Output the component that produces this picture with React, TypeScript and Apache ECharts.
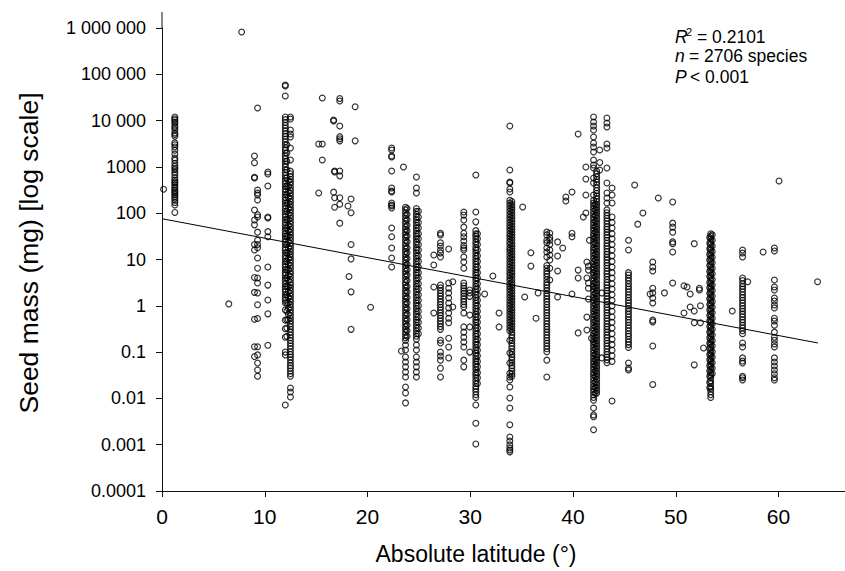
import { useEffect, useRef } from 'react';
import * as echarts from 'echarts';

const FONT = '"Liberation Sans", Arial, Helvetica, sans-serif';

// ---- axes ----
const xTickValues = [0, 10, 20, 30, 40, 50, 60];
const yTickValues = [0.0001, 0.001, 0.01, 0.1, 1, 10, 100, 1000, 10000, 100000, 1000000];
const yTickLabels = ['0.0001', '0.001', '0.01', '0.1', '1', '10', '100', '1000', '10 000', '100 000', '1 000 000'];

// ---- regression line ----
const fitLat = [0, 63.85];
const fitMass = [76, 0.157];

// ---- stats ----
const statR2 = '= 0.2101';
const statN = '= 2706 species';
const statP = '< 0.001';

// ---- sampling-site columns (latitude, seed masses in mg) ----
const massLat1_25 = [12000, 11000, 10300, 9300, 8800, 7600, 7000, 6300, 5400, 5000, 4600, 3300, 3000, 2700, 2300, 1900, 1550, 1400, 1200, 1050, 950, 870, 770, 680, 580, 520, 480, 450, 410, 370, 340, 310, 290, 270, 250, 230, 210, 190, 170, 150, 104];
const massLat9_0 = [1720, 1230, 600, 575, 117, 71, 56, 21, 16, 4.1, 1.95, 0.51, 0.13, 0.08];
const massLat9_3 = [18700, 317, 273, 247, 193, 93, 83, 39, 26, 21, 18, 10.8, 6.5, 4.0, 3.1, 1.9, 1.05, 0.53, 0.13, 0.087, 0.058, 0.041, 0.03];
const massLat10_3 = [776, 700, 387, 83, 79, 40, 31, 6.9, 2.8, 1.33, 0.67, 0.14];
const massLat12_0 = [58700, 55900, 34000, 12000, 10500, 9100, 7900, 6900, 6000, 5200, 4600, 4000, 3500, 3000, 2600, 2300, 2000, 1740, 1510, 1320, 1150, 1000, 870, 760, 660, 575, 500, 437, 380, 331, 288, 251, 219, 190, 166, 145, 126, 110, 95, 83, 72, 63, 55, 48, 42, 36, 32, 28, 24, 21, 18, 16, 14, 12, 10.5, 9.1, 7.9, 6.9, 6.0, 5.2, 4.6, 4.0, 3.5, 3.0, 2.6, 2.3, 2.0, 1.74, 1.51, 1.32, 1.15, 0.81, 0.49, 0.32, 0.21, 0.10, 0.087, 0.0072];
const massLat12_15 = [3000, 2000, 1320, 870, 575, 380, 251, 166, 110, 72, 48, 32, 21, 14, 9.1, 6.0, 4.0, 2.6, 1.74, 1.15, 0.76, 0.5, 0.33, 0.22];
const massLat12_3 = [500, 380, 288, 219, 166, 126, 95, 72, 55, 42, 32, 24, 18, 14, 10.5, 7.9, 6.0, 4.6, 3.5, 2.6, 2.0, 1.51, 1.15, 0.87, 0.66, 0.5];
const massLat12_5 = [12000, 10800, 6270, 5140, 4430, 2560, 1410, 810, 710, 620, 540, 470, 410, 355, 310, 270, 235, 205, 178, 155, 135, 118, 102, 89, 78, 68, 59, 51, 45, 39, 34, 30, 26, 22.4, 19.5, 17, 14.8, 12.9, 11.2, 9.8, 8.5, 7.4, 6.5, 5.6, 4.9, 4.3, 3.7, 3.2, 2.8, 2.45, 2.14, 1.86, 1.62, 1.41, 1.23, 1.07, 0.93, 0.81, 0.71, 0.62, 0.54, 0.47, 0.41, 0.355, 0.31, 0.27, 0.235, 0.205, 0.178, 0.155, 0.135, 0.118, 0.102, 0.089, 0.078, 0.068, 0.059, 0.051, 0.045, 0.039, 0.034, 0.03, 0.0168, 0.0137, 0.0107];
const massLat22_4 = [2560, 2320, 1720, 1640, 815, 350, 302, 287, 166, 150, 143, 129, 48, 31, 17.7, 10.8, 6.9];
const massLat23_7 = [135, 118, 102, 89, 78, 68, 59, 51, 45, 39, 34, 30, 26, 22.4, 19.5, 17, 14.8, 12.9, 11.2, 9.8, 8.5, 7.4, 6.5, 5.6, 4.9, 4.3, 3.7, 3.2, 2.8, 2.45, 2.14, 1.86, 1.62, 1.41, 1.23, 1.07, 0.93, 0.81, 0.71, 0.62, 0.54, 0.47, 0.41, 0.355, 0.31, 0.27, 0.235, 0.205, 0.178, 0.142, 0.111, 0.078, 0.061, 0.048, 0.037, 0.029, 0.0176, 0.0131, 0.008];
const massLat23_85 = [126, 95, 72, 55, 42, 32, 24, 18, 14, 10.5, 7.9, 6.0, 4.6, 3.5, 2.6, 2.0, 1.51, 1.15, 0.87, 0.66, 0.5, 0.38, 0.29, 0.22];
const massLat24_8 = [605, 350, 273, 126, 110, 95, 83, 72, 63, 55, 48, 42, 36, 32, 28, 24, 21, 18, 16, 14, 12, 10.5, 9.1, 7.9, 6.9, 6.0, 5.2, 4.6, 4.0, 3.5, 3.0, 2.6, 2.3, 2.0, 1.74, 1.51, 1.32, 1.15, 1.0, 0.87, 0.76, 0.66, 0.575, 0.5, 0.44, 0.38, 0.33, 0.29, 0.25, 0.22, 0.19, 0.142, 0.111, 0.078, 0.061, 0.048, 0.037, 0.029];
const massLat24_95 = [110, 83, 63, 48, 36, 28, 21, 16, 12, 9.1, 6.9, 5.2, 4.0, 3.0, 2.3, 1.74, 1.32, 1.0, 0.76, 0.575, 0.44, 0.33, 0.25];
const massLat26_5 = [12.5, 7.6, 2.55, 0.70];
const massLat27_1 = [37, 34, 23, 19.6, 16, 13.8, 11.3, 2.8, 2.45, 2.14, 1.86, 1.62, 1.41, 1.23, 1.07, 0.93, 0.81, 0.71, 0.62, 0.54, 0.47, 0.41, 0.355, 0.31, 0.18, 0.157, 0.10, 0.082, 0.067, 0.045, 0.029];
const massLat27_9 = [16.9, 3.1, 2.4, 1.9, 1.47, 1.15, 0.90, 0.70, 0.54, 0.43, 0.20, 0.129, 0.075];
const massLat28_3 = [3.3, 0.94];
const massLat29_4 = [106, 91, 71, 50, 37, 31, 25, 20, 17.7, 16, 11.3, 8.8, 6.5, 3.1, 2.7, 2.4, 2.1, 1.86, 1.62, 1.41, 1.23, 1.07, 0.94, 0.70, 0.35, 0.27, 0.21, 0.165, 0.129, 0.067, 0.048];
const massLat30_0 = [2.2, 1.9, 1.6, 0.63, 0.35, 0.10];
const massLat30_5 = [668, 106, 65, 42, 36, 32, 28, 24, 21, 18, 16, 14, 12, 10.5, 9.1, 7.9, 6.9, 6.0, 5.2, 4.6, 4.0, 3.5, 3.0, 2.6, 2.3, 2.0, 1.74, 1.51, 1.32, 1.15, 1.0, 0.87, 0.76, 0.66, 0.575, 0.5, 0.44, 0.38, 0.33, 0.29, 0.25, 0.22, 0.19, 0.166, 0.145, 0.126, 0.11, 0.095, 0.083, 0.072, 0.063, 0.055, 0.048, 0.042, 0.036, 0.032, 0.028, 0.024, 0.021, 0.018, 0.016, 0.014, 0.012, 0.0105, 0.0072, 0.0029, 0.00104];
const massLat30_7 = [36, 28, 21, 16, 12, 9.1, 6.9, 5.2, 4.0, 3.0, 2.3, 1.74, 1.32, 1.0, 0.76, 0.575, 0.44, 0.33, 0.25, 0.19, 0.145, 0.11, 0.083, 0.063, 0.048, 0.036, 0.028, 0.021];
const massLat33_85 = [7640, 857, 472, 449, 333, 287, 190, 166, 145, 126, 110, 95, 83, 72, 63, 55, 48, 42, 36, 32, 28, 24, 21, 18, 16, 14, 12, 10.5, 9.1, 7.9, 6.9, 6.0, 5.2, 4.6, 4.0, 3.5, 3.0, 2.6, 2.3, 2.0, 1.74, 1.51, 1.32, 1.15, 1.0, 0.87, 0.76, 0.66, 0.575, 0.5, 0.44, 0.38, 0.33, 0.29, 0.18, 0.096, 0.058, 0.035, 0.029, 0.025, 0.0176, 0.0102, 0.0062, 0.0027, 0.00147, 0.0012, 0.00099, 0.00085, 0.00077, 0.0007];
const massLat34_0 = [178, 155, 135, 118, 102, 89, 78, 68, 59, 51, 45, 39, 34, 30, 26, 22.4, 19.5, 17, 14.8, 12.9, 11.2, 9.8, 8.5, 7.4, 6.5, 5.6, 4.9, 4.3, 3.7, 3.2, 2.8, 2.45, 2.14, 1.86, 1.62, 1.41, 1.23, 1.07, 0.93, 0.81, 0.71, 0.62, 0.54, 0.47, 0.41, 0.355, 0.31, 0.27, 0.235, 0.205, 0.178, 0.155, 0.135, 0.118, 0.102, 0.089, 0.078, 0.068, 0.059, 0.051, 0.045, 0.039, 0.034, 0.03];
const massLat37_4 = [39, 34, 26, 23, 17.7, 14.5, 11.3, 7.4, 6.5, 5.6, 4.9, 4.3, 3.7, 3.2, 2.8, 2.45, 2.14, 1.86, 1.62, 1.41, 1.23, 1.07, 0.93, 0.81, 0.71, 0.62, 0.54, 0.47, 0.41, 0.355, 0.31, 0.27, 0.235, 0.205, 0.178, 0.155, 0.135, 0.118, 0.102, 0.067, 0.029];
const massLat37_7 = [37, 30, 26, 21, 16, 12.5, 9.75, 6.5, 3.6];
const massLat41_5 = [7.2, 5.9, 3.1, 2.4, 1.4];
const massLat42_0 = [12000, 9330, 7640, 6270, 4430, 3280, 2690, 2100, 1410, 1100, 946, 575, 449, 247, 190, 166, 145, 126, 110, 95, 83, 72, 63, 55, 48, 42, 36, 32, 28, 24, 21, 18, 16, 14, 12, 10.5, 9.1, 7.9, 6.9, 6.0, 5.2, 4.6, 4.0, 3.5, 3.0, 2.6, 2.3, 2.0, 1.74, 1.51, 1.32, 1.15, 1.0, 0.87, 0.76, 0.66, 0.575, 0.5, 0.44, 0.38, 0.33, 0.29, 0.25, 0.22, 0.19, 0.166, 0.145, 0.126, 0.11, 0.095, 0.083, 0.072, 0.063, 0.055, 0.048, 0.042, 0.036, 0.032, 0.028, 0.024, 0.021, 0.018, 0.016, 0.014, 0.012, 0.0105, 0.0091, 0.0062, 0.0044, 0.0040, 0.0021];
const massLat42_15 = [155, 118, 89, 68, 51, 39, 30, 22.4, 17, 12.9, 9.8, 7.4, 5.6, 4.3, 3.2, 2.45, 1.86, 1.41, 1.07, 0.81, 0.62, 0.47, 0.355, 0.27, 0.205, 0.155, 0.118, 0.089, 0.068, 0.051, 0.039, 0.03, 0.0224, 0.017, 0.0129];
const massLat42_3 = [810, 710, 620, 540, 470, 410, 355, 310, 270, 235, 205, 178, 155, 135, 118, 102, 89, 78, 68, 59, 51, 45, 39, 34, 30, 26, 22.4, 19.5, 17, 14.8, 12.9, 11.2, 9.8, 8.5, 7.4, 6.5, 5.6, 4.9, 4.3, 3.7, 3.2, 2.8, 2.45, 2.14, 1.86, 1.62, 1.41, 1.23, 1.07, 0.93, 0.81, 0.71, 0.62, 0.54, 0.47, 0.41, 0.355, 0.31, 0.27, 0.235, 0.205, 0.178, 0.155, 0.135, 0.118, 0.102, 0.089, 0.078, 0.068, 0.059, 0.051, 0.045, 0.039, 0.034, 0.03, 0.026, 0.0224, 0.0195, 0.017, 0.0148, 0.0129];
const massLat43_3 = [11400, 8880, 7270, 3130, 2560, 946, 449, 273, 213, 166, 118, 102, 89, 78, 68, 59, 51, 45, 39, 34, 30, 26, 22.4, 19.5, 17, 14.8, 12.9, 11.2, 9.8, 8.5, 7.4, 6.5, 5.6, 4.9, 4.3, 3.7, 3.2, 2.8, 2.45, 2.14, 1.86, 1.62, 1.41, 1.23, 1.07, 0.93, 0.81, 0.71, 0.62, 0.54, 0.47, 0.41, 0.355, 0.31, 0.27, 0.235, 0.205, 0.178, 0.155, 0.135, 0.118, 0.102, 0.089, 0.078, 0.068, 0.059];
const massLat43_8 = [350, 247, 166, 83, 63, 48, 36, 28, 21, 16, 12, 9.1, 6.9, 5.2, 4.0, 3.0, 2.3, 1.74, 1.32, 1.0, 0.76, 0.575, 0.44, 0.33, 0.25, 0.19, 0.145, 0.11, 0.083, 0.063, 0.0088];
const massLat45_4 = [26, 16, 5.2, 4.6, 4.0, 3.5, 3.0, 2.6, 2.3, 2.0, 1.74, 1.51, 1.32, 1.15, 1.0, 0.87, 0.76, 0.66, 0.575, 0.5, 0.44, 0.38, 0.33, 0.29, 0.25, 0.22, 0.19, 0.166, 0.145, 0.126, 0.058, 0.045, 0.041];
const massLat47_8 = [8.8, 6.9, 5.65, 2.4, 1.9, 1.47, 1.15, 0.49, 0.45, 0.135, 0.020];
const massLat49_7 = [175, 61, 50, 39, 24, 22, 14.5, 3.1];
const massLat53_3 = [30, 22.4, 17, 12.9, 9.8, 7.4, 5.6, 4.3, 3.2, 2.45, 1.86, 1.41, 1.07, 0.81, 0.62, 0.47, 0.355, 0.27, 0.205, 0.155, 0.118, 0.089, 0.068, 0.051, 0.039, 0.03, 0.0224, 0.017];
const massLat53_4 = [36, 32, 28, 24, 21, 18, 16, 14, 12, 10.5, 9.1, 7.9, 6.9, 6.0, 5.2, 4.6, 4.0, 3.5, 3.0, 2.6, 2.3, 2.0, 1.74, 1.51, 1.32, 1.15, 1.0, 0.87, 0.76, 0.66, 0.575, 0.5, 0.44, 0.38, 0.33, 0.29, 0.25, 0.22, 0.19, 0.166, 0.145, 0.126, 0.11, 0.095, 0.083, 0.072, 0.063, 0.055, 0.048, 0.042, 0.036, 0.032, 0.028, 0.024, 0.021, 0.018, 0.016, 0.014, 0.012, 0.0105];
const massLat53_5 = [34, 26, 19.5, 14.8, 11.2, 8.5, 6.5, 4.9, 3.7, 2.8, 2.14, 1.62, 1.23, 0.93, 0.71, 0.54, 0.41, 0.31, 0.235, 0.178, 0.135, 0.102, 0.078, 0.059, 0.045, 0.034];
const massLat56_5 = [16, 13.8, 11.3, 4.0, 3.5, 3.0, 2.6, 2.3, 2.0, 1.74, 1.51, 1.32, 1.15, 1.0, 0.87, 0.76, 0.66, 0.575, 0.5, 0.44, 0.38, 0.33, 0.29, 0.25, 0.157, 0.129, 0.075, 0.064, 0.058, 0.030, 0.028, 0.025];
const massLat59_6 = [17.7, 15.3, 3.6, 2.55, 2.2, 1.47, 1.27, 1.04, 0.90, 0.54, 0.47, 0.38, 0.27, 0.21, 0.18, 0.15, 0.129, 0.075, 0.061, 0.050, 0.041, 0.034, 0.028, 0.025];

// ---- isolated species ----
const scatterLat = [0.15, 6.5, 7.75, 15.25, 15.25, 15.6, 15.6, 15.6, 16.7, 16.7, 16.7, 16.8, 16.8, 16.8, 16.8, 17.3, 17.3, 17.3, 17.3, 17.3, 17.3, 17.3, 17.3, 17.3, 17.3, 17.3, 18.1, 18.2, 18.4, 18.4, 18.4, 18.4, 18.4, 18.4, 18.8, 18.8, 20.3, 23.3, 23.5, 31.4, 32.2, 32.8, 32.8, 35.1, 35.3, 35.9, 35.9, 36.4, 36.6, 38.5, 38.5, 38.5, 38.5, 39.0, 39.3, 39.3, 39.9, 39.9, 39.9, 39.9, 40.5, 40.5, 40.5, 40.5, 41.0, 41.25, 41.25, 41.25, 41.25, 41.35, 41.35, 41.35, 41.35, 41.6, 41.8, 42.6, 42.6, 42.6, 42.8, 42.8, 46.0, 46.3, 46.8, 47.5, 48.3, 48.9, 50.8, 50.8, 51.1, 51.4, 51.4, 51.8, 51.8, 51.8, 51.8, 52.3, 52.3, 52.4, 52.4, 52.7, 55.5, 57.0, 58.5, 60.05, 63.8];
const scatterMass = [330, 1.1, 820000, 273, 3130, 30700, 1410, 3130, 10300, 9800, 285, 815, 780, 215, 134, 30000, 26500, 7640, 4500, 4050, 3650, 815, 640, 215, 156, 61, 143, 4.3, 203, 102, 21, 10.3, 2.0, 0.31, 19900, 3650, 0.93, 0.106, 995, 1.8, 4.4, 0.70, 0.35, 136, 1.55, 14, 7.2, 0.54, 1.9, 24, 11.9, 5.65, 1.55, 17.7, 224, 183, 287, 37, 31, 1.8, 5130, 5.9, 4.0, 0.26, 83, 995, 548, 247, 101, 8.8, 4.0, 0.57, 0.30, 26, 0.20, 2320, 1250, 857, 0.075, 1.9, 406, 58, 101, 1.8, 213, 1.9, 2.7, 0.70, 2.55, 1.8, 0.94, 22, 0.77, 0.43, 0.053, 2.4, 2.2, 1.0, 0.43, 0.123, 0.77, 3.3, 14.5, 496, 3.3];

const columns: [number, number[]][] = [
  [1.25, massLat1_25], [9.0, massLat9_0], [9.3, massLat9_3], [10.3, massLat10_3],
  [12.0, massLat12_0], [12.15, massLat12_15], [12.3, massLat12_3], [12.5, massLat12_5],
  [22.35, massLat22_4], [23.7, massLat23_7], [23.85, massLat23_85], [24.76, massLat24_8], [24.95, massLat24_95],
  [26.45, massLat26_5], [27.1, massLat27_1], [27.9, massLat27_9], [28.3, massLat28_3],
  [29.37, massLat29_4], [29.95, massLat30_0], [30.54, massLat30_5], [30.7, massLat30_7],
  [33.85, massLat33_85], [34.05, massLat34_0], [37.45, massLat37_4], [37.74, massLat37_7],
  [41.5, massLat41_5], [42.0, massLat42_0], [42.15, massLat42_15], [42.3, massLat42_3], [43.3, massLat43_3], [43.8, massLat43_8],
  [45.4, massLat45_4], [47.76, massLat47_8], [49.7, massLat49_7],
  [53.3, massLat53_3], [53.4, massLat53_4], [53.55, massLat53_5], [56.5, massLat56_5], [59.6, massLat59_6],
];

function buildPoints(): number[][] {
  const pts: number[][] = [];
  columns.forEach(([lat, arr]) => arr.forEach((m) => pts.push([lat, m])));
  scatterLat.forEach((lat, i) => pts.push([lat, scatterMass[i]]));
  return pts;
}

function yLabel(v: number): string {
  const lv = Math.log10(v);
  for (let i = 0; i < yTickValues.length; i++) {
    if (Math.abs(Math.log10(yTickValues[i]) - lv) < 0.01) return yTickLabels[i];
  }
  return '';
}

export default function App() {
  const ref = useRef<HTMLDivElement>(null);
  useEffect(() => {
    if (!ref.current) return;
    const chart = echarts.init(ref.current, undefined, { renderer: 'svg' });
    const axisColor = '#111';
    const statStyle = { fontSize: 17.5, fontFamily: FONT, fill: '#000', verticalAlign: 'middle', textVerticalAlign: 'middle' };
    chart.setOption({
      animation: false,
      backgroundColor: '#fff',
      grid: { left: 162, right: 0, top: 28, bottom: 80, containLabel: false },
      xAxis: {
        type: 'value',
        min: 0,
        max: 66.47,
        axisLine: { show: true, onZero: false, lineStyle: { color: axisColor, width: 1 } },
        axisTick: { show: true, length: 6, customValues: xTickValues, lineStyle: { color: axisColor, width: 1 } },
        axisLabel: { customValues: xTickValues, margin: 15, fontSize: 21, color: '#000', fontFamily: FONT },
        splitLine: { show: false },
      },
      yAxis: {
        type: 'log',
        logBase: 10,
        min: 0.0001,
        max: 1000000,
        axisLine: { show: true, onZero: false, lineStyle: { color: axisColor, width: 1 } },
        axisTick: { show: true, length: 6, customValues: yTickValues, lineStyle: { color: axisColor, width: 1 } },
        axisLabel: { customValues: yTickValues, margin: 16, fontSize: 18, color: '#000', fontFamily: FONT, formatter: (v: number) => yLabel(v) },
        splitLine: { show: false },
        minorTick: { show: false },
      },
      series: [
        {
          type: 'scatter',
          data: buildPoints(),
          symbol: 'circle',
          symbolSize: 5.8,
          itemStyle: { color: 'rgba(0,0,0,0)', borderColor: '#000', borderWidth: 1.2 },
          emphasis: { disabled: true },
          clip: false,
          z: 2,
        },
        {
          type: 'line',
          data: fitLat.map((x, i) => [x, fitMass[i]]),
          symbol: 'none',
          lineStyle: { color: '#000', width: 1 },
          z: 3,
        },
      ],
      graphic: [
        { type: 'line', shape: { x1: 162, y1: 12, x2: 162, y2: 29 }, style: { stroke: axisColor, lineWidth: 1 } },
        {
          type: 'text', x: 29, y: 253, rotation: Math.PI / 2,
          style: { text: 'Seed mass (mg) [log scale]', fontSize: 26.5, fontFamily: FONT, fill: '#000', align: 'center', verticalAlign: 'middle', textAlign: 'center', textVerticalAlign: 'middle' },
        },
        {
          type: 'text', x: 476, y: 554,
          style: { text: 'Absolute latitude (°)', fontSize: 23, fontFamily: FONT, fill: '#000', align: 'center', verticalAlign: 'middle', textAlign: 'center', textVerticalAlign: 'middle' },
        },
        { type: 'text', x: 675, y: 37, style: { ...statStyle, text: 'R', fontStyle: 'italic' } },
        { type: 'text', x: 686, y: 32, style: { ...statStyle, text: '2', fontSize: 11 } },
        { type: 'text', x: 697, y: 37, style: { ...statStyle, text: statR2 } },
        { type: 'text', x: 675, y: 56, style: { ...statStyle, text: 'n', fontStyle: 'italic' } },
        { type: 'text', x: 689, y: 56, style: { ...statStyle, text: statN } },
        { type: 'text', x: 675, y: 77, style: { ...statStyle, text: 'P', fontStyle: 'italic' } },
        { type: 'text', x: 690, y: 77, style: { ...statStyle, text: statP } },
      ],
    });
    return () => chart.dispose();
  }, []);
  return (
    <div
      ref={ref}
      style={{ position: 'absolute', left: 0, top: 0, width: 845, height: 571, background: '#fff' }}
    />
  );
}
